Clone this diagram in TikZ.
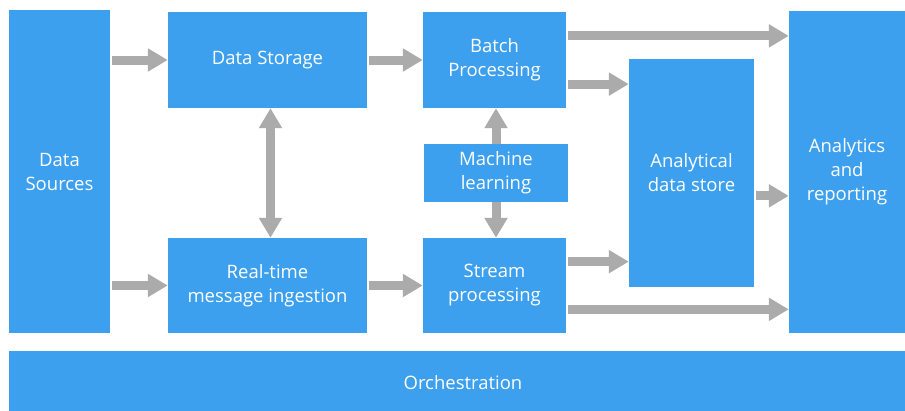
\documentclass[tikz,border=0pt]{standalone}
\usepackage{fontspec}
\setmainfont{Open Sans}
\usepackage{tikz}
\usetikzlibrary{arrows.meta,positioning,calc}
\definecolor{boxblue}{HTML}{3CA0EE}
\definecolor{flowgray}{HTML}{ABABAB}

\begin{document}
\begin{tikzpicture}[x=1pt,y=-1pt,>={Triangle[length=20pt,width=22pt]},
     box/.style={fill=boxblue, text=white, align=center, inner sep=0pt,
       font=\fontsize{18.5}{24}\selectfont},
     flow/.style={draw=flowgray, line width=9pt, ->, shorten <=2pt}]
    \useasboundingbox (0,0) rectangle (905,410);
    \node[box, minimum width=101, minimum height=323] (ds) at (59.5, 171.5) {Data\\Sources};
    \node[box, minimum width=199, minimum height=96] (store) at (267.5, 60) {Data Storage};
    \node[box, minimum width=199, minimum height=95] (rt) at (267.5, 285.5) {Real-time\\message ingestion};
    \node[box, minimum width=143, minimum height=96] (batch) at (494.5, 60) {Batch\\Processing};
    \node[box, minimum width=144, minimum height=58] (ml) at (496, 173) {Machine\\learning};
    \node[box, minimum width=143, minimum height=95] (stream) at (494.5, 285.5) {Stream\\processing};
    \node[box, minimum width=125, minimum height=228] (ads) at (691.5, 173) {Analytical\\data store};
    \node[box, minimum width=116, minimum height=322] (ar) at (847, 172) {Analytics\\and\\reporting};
    \node[box, minimum width=908, minimum height=64] (orch) at (463, 383) {Orchestration};
    % sources into storage and ingestion
    \path (ds.east |- store) edge[flow] (store.west);
    \path (ds.east |- rt) edge[flow] (rt.west);
    \path ([xshift=3pt]store.south) edge[flow, <->, shorten <=0pt] ([xshift=3pt]rt.north);
    \path (store.east) edge[flow] (batch.west);
    \path (rt.east) edge[flow] (stream.west);
    \path (ml.north) edge[flow, shorten <=0pt] (ml.north |- batch.south);
    \path (ml.south) edge[flow, shorten <=0pt] (ml.south |- stream.north);
    % out to the store and the reports
    \coordinate (b1) at ($(batch.north east)!0.25!(batch.south east)$);
    \coordinate (b2) at ($(batch.north east)!0.75!(batch.south east)$);
    \coordinate (s1) at ($(stream.north east)!0.25!(stream.south east)$);
    \coordinate (s2) at ($(stream.north east)!0.75!(stream.south east)$);
    \coordinate (a1) at ($(ads.north east)!0.6!(ads.south east)$);
    \path (b1) edge[flow] (b1 -| ar.west);
    \path (b2) edge[flow] (b2 -| ads.west);
    \path (s1) edge[flow] (s1 -| ads.west);
    \path (s2) edge[flow] (s2 -| ar.west);
    \path (a1) edge[flow] (a1 -| ar.west);
\end{tikzpicture}
\end{document}
